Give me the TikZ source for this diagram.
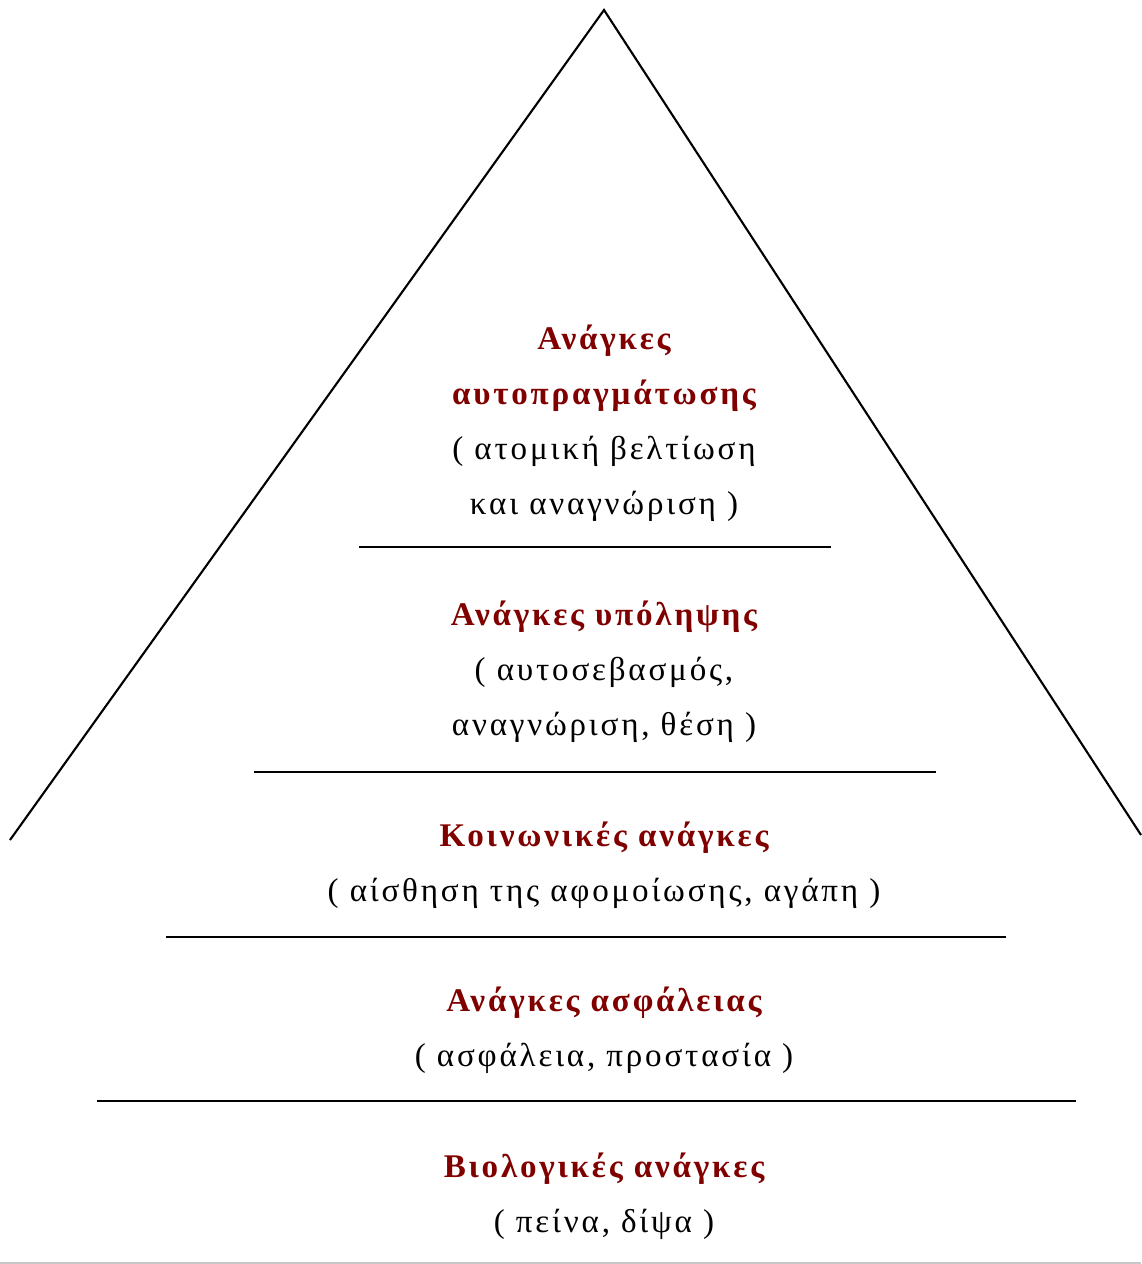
\documentclass[tikz,border=0pt]{standalone}
\usepackage{fontspec}
\setmainfont{Liberation Serif}
\newfontfamily\spaced[LetterSpace=8.5]{Liberation Serif}
\usepackage{xcolor}
\usetikzlibrary{positioning}
\definecolor{DarkRed}{RGB}{128,0,0}
\definecolor{LineGray}{RGB}{200,200,200}
\newcommand{\needtitle}[1]{{\bfseries\color{DarkRed}#1}}

\tikzset{
	level/.style={align=center, inner sep=0pt, font=\spaced\fontsize{9.4}{15.6}\selectfont}
}

\begin{document}
\begin{tikzpicture}[x=0.01cm, y=-0.01cm, line width=0.6pt]
	\useasboundingbox (0,0) rectangle (1141,1264);
	
	% Πυραμίδα
	\coordinate (top) at (604,10);
	\coordinate (left) at (10,840);
	\coordinate (right) at (1141,835);
	\draw (left) -- (top) -- (right);
	
	% Διαχωριστικές γραμμές
	\draw (359,547) -- (831,547);
	\draw (254,772) -- (936,772);
	\draw (166,937) -- (1006,937);
	\draw (97,1101) -- (1076,1101);
	\draw[LineGray] (0,1263) -- (1141,1263);
	
	% Επίπεδα
	\node[level] (self) at (604,423) {\needtitle{Ανάγκες}\\\needtitle{αυτοπραγμάτωσης}\\( ατομική βελτίωση\\και αναγνώριση )};
	\node[level] (esteem) at (604,672) {\needtitle{Ανάγκες υπόληψης}\\( αυτοσεβασμός,\\αναγνώριση, θέση )};
	\node[level] (social) at (604,865) {\needtitle{Κοινωνικές ανάγκες}\\( αίσθηση της αφομοίωσης, αγάπη )};
	\node[level] (safety) at (604,1030) {\needtitle{Ανάγκες ασφάλειας}\\( ασφάλεια, προστασία )};
	\node[level] (bio) at (604,1196) {\needtitle{Βιολογικές ανάγκες}\\( πείνα, δίψα )};
\end{tikzpicture}
\end{document}
